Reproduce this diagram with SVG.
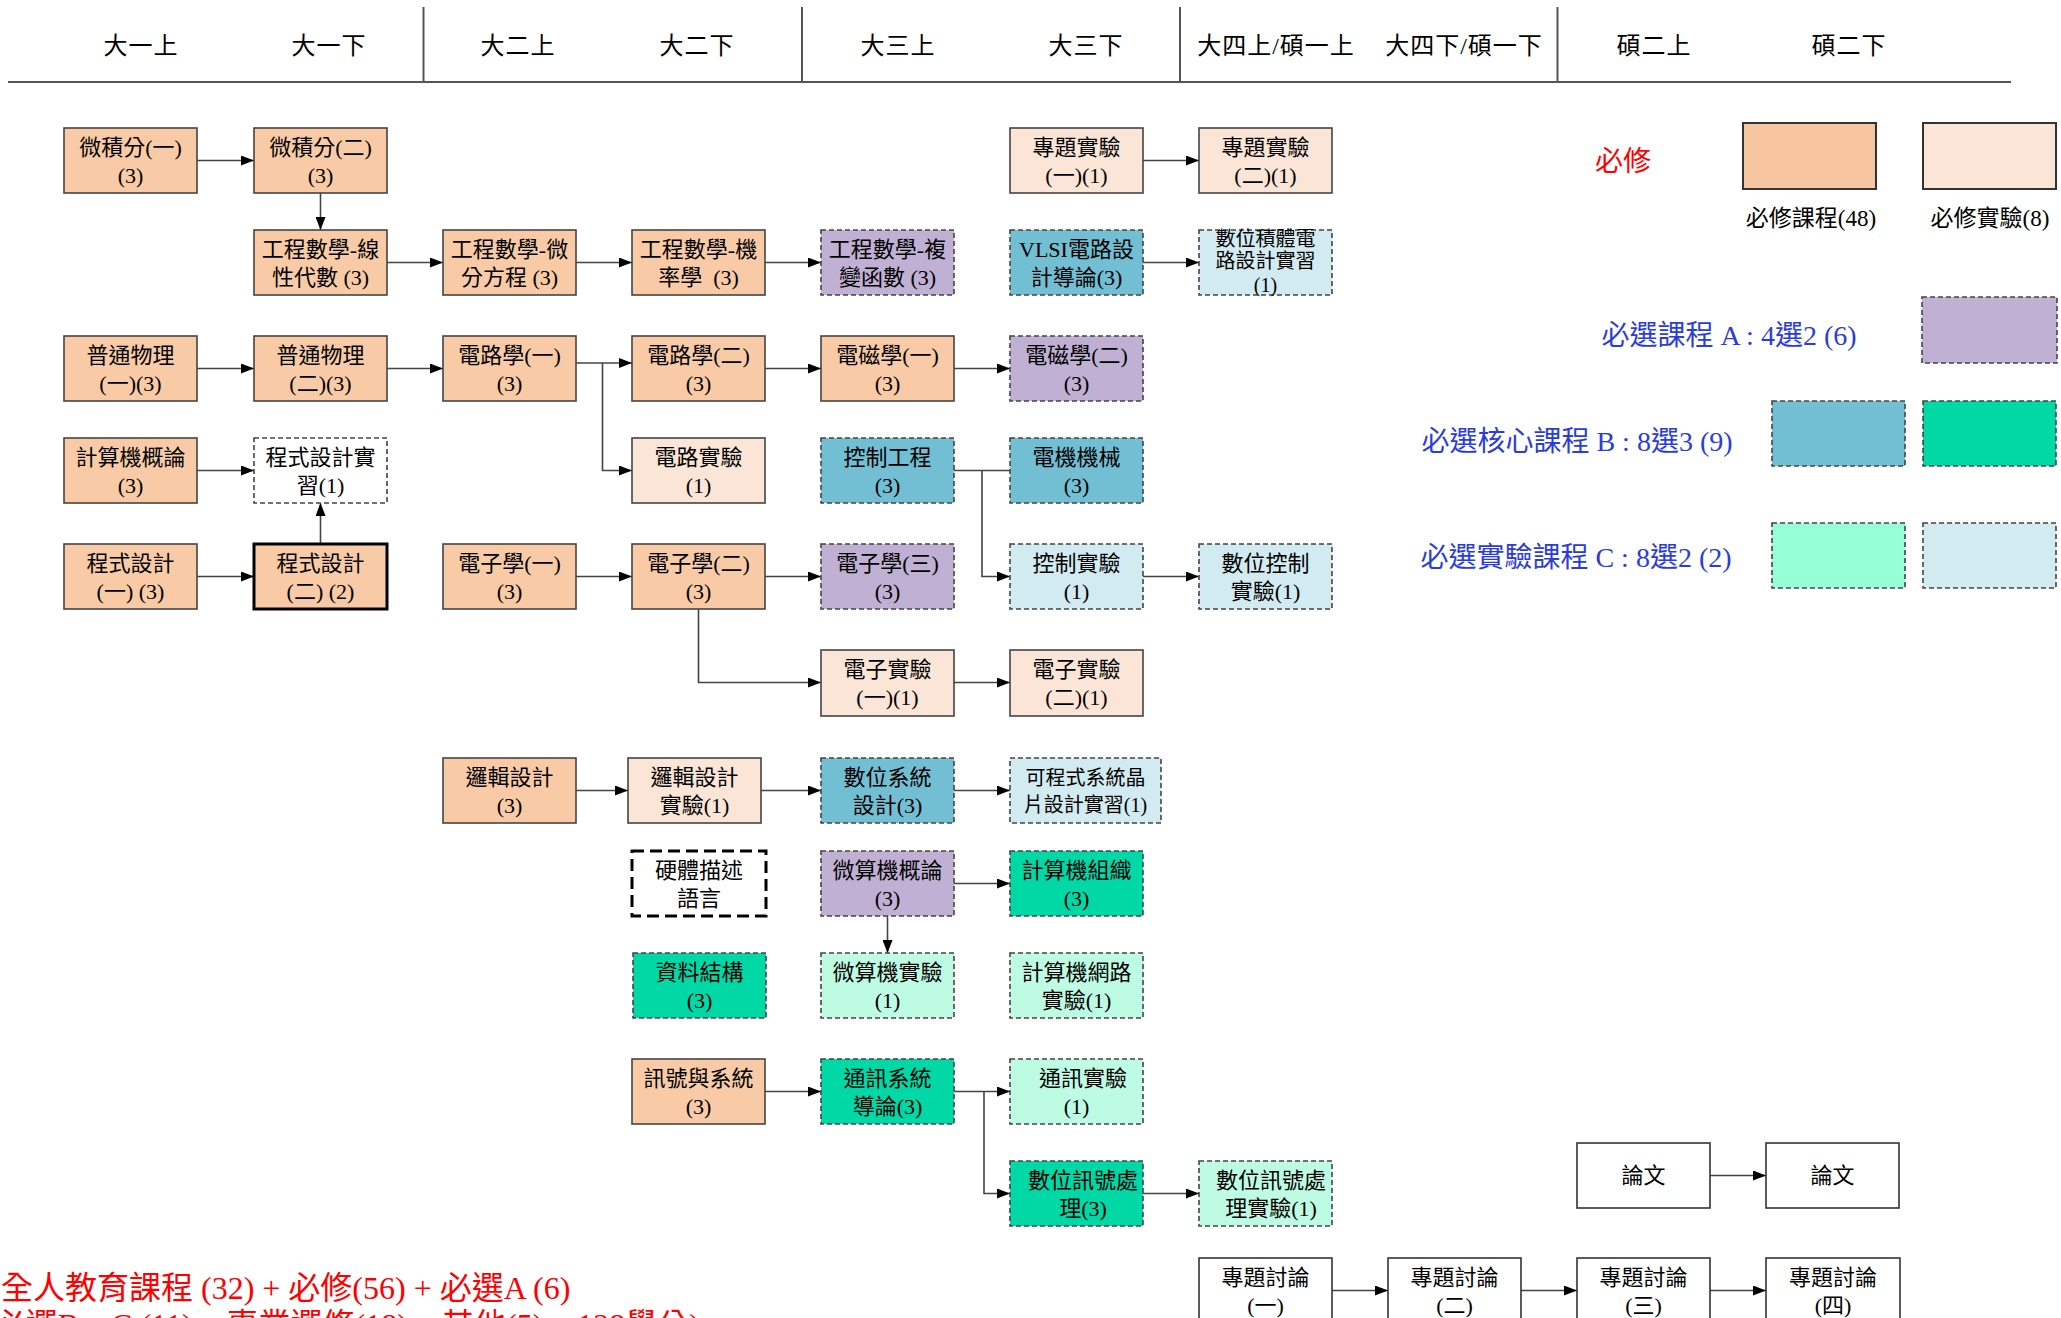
<svg xmlns="http://www.w3.org/2000/svg" width="2061" height="1318" viewBox="0 0 2061 1318">
<defs>
<marker id="arr" markerUnits="userSpaceOnUse" markerWidth="13" markerHeight="10" refX="13" refY="5" orient="auto">
<path d="M0,0 L13,5 L0,10 z" fill="#000"/>
</marker>
<style>
text{font-family:"Liberation Serif","Noto Sans CJK TC",serif;}
.hd{font-size:24px;text-anchor:middle;dominant-baseline:central;fill:#000;letter-spacing:1px;}
.t{font-size:22px;text-anchor:middle;dominant-baseline:central;fill:#000;white-space:pre;}
.ts{font-size:20px;text-anchor:middle;dominant-baseline:central;fill:#000;}
rect{stroke:#444;stroke-width:1.6;}
rect.bg{stroke:none;fill:#fff;}
.req{fill:#F8CBA6;}
.lab{fill:#FBE5D6;}
.A{fill:#C0B1D4;stroke-dasharray:5,3;}
.B1{fill:#72BED3;stroke-dasharray:5,3;}
.B2{fill:#00D8A6;stroke-dasharray:5,3;}
.C1{fill:#BDFCE3;stroke-dasharray:5,3;}
.C2{fill:#D2EBF0;stroke-dasharray:5,3;}
.wd{fill:#FFFFFF;stroke-dasharray:5,3;}
.w{fill:#FFFFFF;stroke:#333;}
.lg{font-size:28px;text-anchor:middle;dominant-baseline:central;fill:#2A3CDB;}
.lgs{font-size:23px;text-anchor:middle;dominant-baseline:central;fill:#000;}
.conn path{fill:none;stroke:#444;stroke-width:1.6;}
.hl{stroke:#555;stroke-width:2;fill:none;}
</style>
</defs>
<rect class="bg" x="0" y="0" width="2061" height="1318"/>

<g id="header">
<path class="hl" d="M8,82 H2011 M423.5,7 V82 M802,7 V82 M1180,7 V82 M1557.5,7 V82"/>
<text class="hd" x="141" y="46">大一上</text>
<text class="hd" x="329" y="46">大一下</text>
<text class="hd" x="518" y="46">大二上</text>
<text class="hd" x="697" y="46">大二下</text>
<text class="hd" x="898" y="46">大三上</text>
<text class="hd" x="1086" y="46">大三下</text>
<text class="hd" x="1276" y="46">大四上/碩一上</text>
<text class="hd" x="1464" y="46">大四下/碩一下</text>
<text class="hd" x="1654" y="46">碩二上</text>
<text class="hd" x="1849" y="46">碩二下</text>
</g>

<g class="conn">
<path d="M197,160.5 H254" marker-end="url(#arr)"/>
<path d="M320.5,193 V230" marker-end="url(#arr)"/>
<path d="M1143,160.5 H1199" marker-end="url(#arr)"/>
<path d="M387,262.5 H443" marker-end="url(#arr)"/>
<path d="M576,262.5 H632" marker-end="url(#arr)"/>
<path d="M765,262.5 H821" marker-end="url(#arr)"/>
<path d="M1143,262.5 H1199" marker-end="url(#arr)"/>
<path d="M197,368.5 H254" marker-end="url(#arr)"/>
<path d="M387,368.5 H443" marker-end="url(#arr)"/>
<path d="M576,363 H632" marker-end="url(#arr)"/>
<path d="M602.5,363 V470.5 H632" marker-end="url(#arr)"/>
<path d="M765,368.5 H821" marker-end="url(#arr)"/>
<path d="M954,368.5 H1010" marker-end="url(#arr)"/>
<path d="M197,470.5 H254" marker-end="url(#arr)"/>
<path d="M320.5,544 V503" marker-end="url(#arr)"/>
<path d="M197,576.5 H254" marker-end="url(#arr)"/>
<path d="M576,576.5 H632" marker-end="url(#arr)"/>
<path d="M765,576.5 H821" marker-end="url(#arr)"/>
<path d="M954,470.5 H1010"/>
<path d="M982,470.5 V576.5 H1010" marker-end="url(#arr)"/>
<path d="M1143,576.5 H1199" marker-end="url(#arr)"/>
<path d="M698.5,609 V682.5 H821" marker-end="url(#arr)"/>
<path d="M954,682.5 H1010" marker-end="url(#arr)"/>
<path d="M576,790.5 H628" marker-end="url(#arr)"/>
<path d="M761,790.5 H821" marker-end="url(#arr)"/>
<path d="M954,790.5 H1010" marker-end="url(#arr)"/>
<path d="M954,883.5 H1010" marker-end="url(#arr)"/>
<path d="M887.5,916 V953" marker-end="url(#arr)"/>
<path d="M765,1091.5 H821" marker-end="url(#arr)"/>
<path d="M954,1091.5 H1010" marker-end="url(#arr)"/>
<path d="M984,1091.5 V1193.5 H1010" marker-end="url(#arr)"/>
<path d="M1143,1193.5 H1199" marker-end="url(#arr)"/>
<path d="M1710,1175.5 H1766" marker-end="url(#arr)"/>
<path d="M1332,1290.5 H1388" marker-end="url(#arr)"/>
<path d="M1521,1290.5 H1577" marker-end="url(#arr)"/>
<path d="M1710,1290.5 H1766" marker-end="url(#arr)"/>
</g>

<g id="n_calc1"><rect class="req" x="64" y="128" width="133" height="65"/><text class="t"><tspan x="130.5" y="146.5">微積分(一)</tspan><tspan x="130.5" y="174.5">(3)</tspan></text></g>
<g id="n_calc2"><rect class="req" x="254" y="128" width="133" height="65"/><text class="t"><tspan x="320.5" y="146.5">微積分(二)</tspan><tspan x="320.5" y="174.5">(3)</tspan></text></g>
<g id="n_proj1"><rect class="lab" x="1010" y="128" width="133" height="65"/><text class="t"><tspan x="1076.5" y="146.5">專題實驗</tspan><tspan x="1076.5" y="174.5">(一)(1)</tspan></text></g>
<g id="n_proj2"><rect class="lab" x="1199" y="128" width="133" height="65"/><text class="t"><tspan x="1265.5" y="146.5">專題實驗</tspan><tspan x="1265.5" y="174.5">(二)(1)</tspan></text></g>

<g id="n_la"><rect class="req" x="254" y="230" width="133" height="65"/><text class="t"><tspan x="320.5" y="248.5">工程數學-線</tspan><tspan x="320.5" y="276.5">性代數 (3)</tspan></text></g>
<g id="n_de"><rect class="req" x="443" y="230" width="133" height="65"/><text class="t"><tspan x="509.5" y="248.5">工程數學-微</tspan><tspan x="509.5" y="276.5">分方程 (3)</tspan></text></g>
<g id="n_prob"><rect class="req" x="632" y="230" width="133" height="65"/><text class="t"><tspan x="698.5" y="248.5">工程數學-機</tspan><tspan x="698.5" y="276.5">率學  (3)</tspan></text></g>
<g id="n_cplx"><rect class="A" x="821" y="230" width="133" height="65"/><text class="t"><tspan x="887.5" y="248.5">工程數學-複</tspan><tspan x="887.5" y="276.5">變函數 (3)</tspan></text></g>
<g id="n_vlsi"><rect class="B1" x="1010" y="230" width="133" height="65"/><text class="t"><tspan x="1076.5" y="248.5">VLSI電路設</tspan><tspan x="1076.5" y="276.5">計導論(3)</tspan></text></g>
<g id="n_dic"><rect class="C2" x="1199" y="230" width="133" height="65"/><text class="ts"><tspan x="1265.5" y="239">數位積體電</tspan><tspan x="1265.5" y="261">路設計實習</tspan><tspan x="1265.5" y="285">(1)</tspan></text></g>

<g id="n_phy1"><rect class="req" x="64" y="336" width="133" height="65"/><text class="t"><tspan x="130.5" y="354.5">普通物理</tspan><tspan x="130.5" y="382.5">(一)(3)</tspan></text></g>
<g id="n_phy2"><rect class="req" x="254" y="336" width="133" height="65"/><text class="t"><tspan x="320.5" y="354.5">普通物理</tspan><tspan x="320.5" y="382.5">(二)(3)</tspan></text></g>
<g id="n_ckt1"><rect class="req" x="443" y="336" width="133" height="65"/><text class="t"><tspan x="509.5" y="354.5">電路學(一)</tspan><tspan x="509.5" y="382.5">(3)</tspan></text></g>
<g id="n_ckt2"><rect class="req" x="632" y="336" width="133" height="65"/><text class="t"><tspan x="698.5" y="354.5">電路學(二)</tspan><tspan x="698.5" y="382.5">(3)</tspan></text></g>
<g id="n_em1"><rect class="req" x="821" y="336" width="133" height="65"/><text class="t"><tspan x="887.5" y="354.5">電磁學(一)</tspan><tspan x="887.5" y="382.5">(3)</tspan></text></g>
<g id="n_em2"><rect class="A" x="1010" y="336" width="133" height="65"/><text class="t"><tspan x="1076.5" y="354.5">電磁學(二)</tspan><tspan x="1076.5" y="382.5">(3)</tspan></text></g>

<g id="n_intro"><rect class="req" x="64" y="438" width="133" height="65"/><text class="t"><tspan x="130.5" y="456.5">計算機概論</tspan><tspan x="130.5" y="484.5">(3)</tspan></text></g>
<g id="n_proglab"><rect class="wd" x="254" y="438" width="133" height="65"/><text class="t"><tspan x="320.5" y="456.5">程式設計實</tspan><tspan x="320.5" y="484.5">習(1)</tspan></text></g>
<g id="n_cktlab"><rect class="lab" x="632" y="438" width="133" height="65"/><text class="t"><tspan x="698.5" y="456.5">電路實驗</tspan><tspan x="698.5" y="484.5">(1)</tspan></text></g>
<g id="n_ctrl"><rect class="B1" x="821" y="438" width="133" height="65"/><text class="t"><tspan x="887.5" y="456.5">控制工程</tspan><tspan x="887.5" y="484.5">(3)</tspan></text></g>
<g id="n_mach"><rect class="B1" x="1010" y="438" width="133" height="65"/><text class="t"><tspan x="1076.5" y="456.5">電機機械</tspan><tspan x="1076.5" y="484.5">(3)</tspan></text></g>

<g id="n_prog1"><rect class="req" x="64" y="544" width="133" height="65"/><text class="t"><tspan x="130.5" y="562.5">程式設計</tspan><tspan x="130.5" y="590.5">(一) (3)</tspan></text></g>
<g id="n_prog2"><rect class="req" x="254" y="544" width="133" height="65" style="stroke:#000;stroke-width:3"/><text class="t"><tspan x="320.5" y="562.5">程式設計</tspan><tspan x="320.5" y="590.5">(二) (2)</tspan></text></g>
<g id="n_elec1"><rect class="req" x="443" y="544" width="133" height="65"/><text class="t"><tspan x="509.5" y="562.5">電子學(一)</tspan><tspan x="509.5" y="590.5">(3)</tspan></text></g>
<g id="n_elec2"><rect class="req" x="632" y="544" width="133" height="65"/><text class="t"><tspan x="698.5" y="562.5">電子學(二)</tspan><tspan x="698.5" y="590.5">(3)</tspan></text></g>
<g id="n_elec3"><rect class="A" x="821" y="544" width="133" height="65"/><text class="t"><tspan x="887.5" y="562.5">電子學(三)</tspan><tspan x="887.5" y="590.5">(3)</tspan></text></g>
<g id="n_ctrllab"><rect class="C2" x="1010" y="544" width="133" height="65"/><text class="t"><tspan x="1076.5" y="562.5">控制實驗</tspan><tspan x="1076.5" y="590.5">(1)</tspan></text></g>
<g id="n_dctrllab"><rect class="C2" x="1199" y="544" width="133" height="65"/><text class="t"><tspan x="1265.5" y="562.5">數位控制</tspan><tspan x="1265.5" y="590.5">實驗(1)</tspan></text></g>

<g id="n_elab1"><rect class="lab" x="821" y="650" width="133" height="66"/><text class="t"><tspan x="887.5" y="668.5">電子實驗</tspan><tspan x="887.5" y="696.5">(一)(1)</tspan></text></g>
<g id="n_elab2"><rect class="lab" x="1010" y="650" width="133" height="66"/><text class="t"><tspan x="1076.5" y="668.5">電子實驗</tspan><tspan x="1076.5" y="696.5">(二)(1)</tspan></text></g>

<g id="n_logic"><rect class="req" x="443" y="758" width="133" height="65"/><text class="t"><tspan x="509.5" y="776.5">邏輯設計</tspan><tspan x="509.5" y="804.5">(3)</tspan></text></g>
<g id="n_logiclab"><rect class="lab" x="628" y="758" width="133" height="65"/><text class="t"><tspan x="694.5" y="776.5">邏輯設計</tspan><tspan x="694.5" y="804.5">實驗(1)</tspan></text></g>
<g id="n_dsd"><rect class="B1" x="821" y="758" width="133" height="65"/><text class="t"><tspan x="887.5" y="776.5">數位系統</tspan><tspan x="887.5" y="804.5">設計(3)</tspan></text></g>
<g id="n_soc"><rect class="C2" x="1010" y="758" width="151" height="65"/><text class="ts"><tspan x="1085.5" y="778">可程式系統晶</tspan><tspan x="1085.5" y="805">片設計實習(1)</tspan></text></g>

<g id="n_hdl"><rect x="632" y="851" width="134" height="65" style="fill:#fff;stroke:#000;stroke-width:3;stroke-dasharray:12,6"/><text class="t"><tspan x="699" y="869.5">硬體描述</tspan><tspan x="699" y="897.5">語言</tspan></text></g>
<g id="n_mp"><rect class="A" x="821" y="851" width="133" height="65"/><text class="t"><tspan x="887.5" y="869.5">微算機概論</tspan><tspan x="887.5" y="897.5">(3)</tspan></text></g>
<g id="n_org"><rect class="B2" x="1010" y="851" width="133" height="65"/><text class="t"><tspan x="1076.5" y="869.5">計算機組織</tspan><tspan x="1076.5" y="897.5">(3)</tspan></text></g>

<g id="n_ds"><rect class="B2" x="633" y="953" width="133" height="65"/><text class="t"><tspan x="699.5" y="971.5">資料結構</tspan><tspan x="699.5" y="999.5">(3)</tspan></text></g>
<g id="n_mplab"><rect class="C1" x="821" y="953" width="133" height="65"/><text class="t"><tspan x="887.5" y="971.5">微算機實驗</tspan><tspan x="887.5" y="999.5">(1)</tspan></text></g>
<g id="n_netlab"><rect class="C1" x="1010" y="953" width="133" height="65"/><text class="t"><tspan x="1076.5" y="971.5">計算機網路</tspan><tspan x="1076.5" y="999.5">實驗(1)</tspan></text></g>

<g id="n_sig"><rect class="req" x="632" y="1059" width="133" height="65"/><text class="t"><tspan x="698.5" y="1077.5">訊號與系統</tspan><tspan x="698.5" y="1105.5">(3)</tspan></text></g>
<g id="n_comm"><rect class="B2" x="821" y="1059" width="133" height="65"/><text class="t"><tspan x="887.5" y="1077.5">通訊系統</tspan><tspan x="887.5" y="1105.5">導論(3)</tspan></text></g>
<g id="n_commlab"><rect class="C1" x="1010" y="1059" width="133" height="65"/><text class="t"><tspan x="1083" y="1077.5">通訊實驗</tspan><tspan x="1076.5" y="1105.5">(1)</tspan></text></g>

<g id="n_dsp"><rect class="B2" x="1010" y="1161" width="133" height="65"/><text class="t"><tspan x="1083" y="1179.5">數位訊號處</tspan><tspan x="1083" y="1207.5">理(3)</tspan></text></g>
<g id="n_dsplab"><rect class="C1" x="1199" y="1161" width="133" height="65"/><text class="t"><tspan x="1271" y="1179.5">數位訊號處</tspan><tspan x="1271" y="1207.5">理實驗(1)</tspan></text></g>

<g id="n_thesis1"><rect class="w" x="1577" y="1143" width="133" height="65"/><text class="t" x="1643.5" y="1175.5">論文</text></g>
<g id="n_thesis2"><rect class="w" x="1766" y="1143" width="133" height="65"/><text class="t" x="1832.5" y="1175.5">論文</text></g>

<g id="n_sem1"><rect class="w" x="1199" y="1258" width="133" height="66"/><text class="t"><tspan x="1265.5" y="1276.5">專題討論</tspan><tspan x="1265.5" y="1304.5">(一)</tspan></text></g>
<g id="n_sem2"><rect class="w" x="1388" y="1258" width="133" height="66"/><text class="t"><tspan x="1454.5" y="1276.5">專題討論</tspan><tspan x="1454.5" y="1304.5">(二)</tspan></text></g>
<g id="n_sem3"><rect class="w" x="1577" y="1258" width="133" height="66"/><text class="t"><tspan x="1643.5" y="1276.5">專題討論</tspan><tspan x="1643.5" y="1304.5">(三)</tspan></text></g>
<g id="n_sem4"><rect class="w" x="1766" y="1258" width="134" height="66"/><text class="t"><tspan x="1833" y="1276.5">專題討論</tspan><tspan x="1833" y="1304.5">(四)</tspan></text></g>

<g id="legend">
<text x="1623" y="161" style="font-size:28px;text-anchor:middle;dominant-baseline:central;fill:#FF0000">必修</text>
<rect class="req" x="1743" y="123" width="133" height="66" style="fill:#F7C6A0;stroke:#333;stroke-width:2"/>
<rect class="lab" x="1923" y="123" width="133" height="66" style="stroke:#333;stroke-width:2"/>
<text class="lgs" x="1811" y="218">必修課程(48)</text>
<text class="lgs" x="1990" y="218">必修實驗(8)</text>
<text class="lg" x="1729" y="335">必選課程 A : 4選2 (6)</text>
<rect class="A" x="1922" y="297" width="135" height="66"/>
<text class="lg" x="1577" y="441">必選核心課程 B : 8選3 (9)</text>
<rect class="B1" x="1772" y="401" width="133" height="65"/>
<rect class="B2" x="1923" y="401" width="133" height="65"/>
<text class="lg" x="1576" y="557">必選實驗課程 C : 8選2 (2)</text>
<rect class="C1" x="1772" y="523" width="133" height="65" style="fill:#97FFD6"/>
<rect class="C2" x="1923" y="523" width="133" height="65"/>
</g>

<g id="summary">
<text x="1" y="1299" style="font-size:32px;fill:#FF0000">全人教育課程 (32) + 必修(56) + 必選A (6)</text>
<text x="700" y="1336" style="font-size:32px;text-anchor:end;fill:#FF0000">必選B、C (11) + 專業選修(18) + 其他(5) = 128學分)</text>
</g>
</svg>
